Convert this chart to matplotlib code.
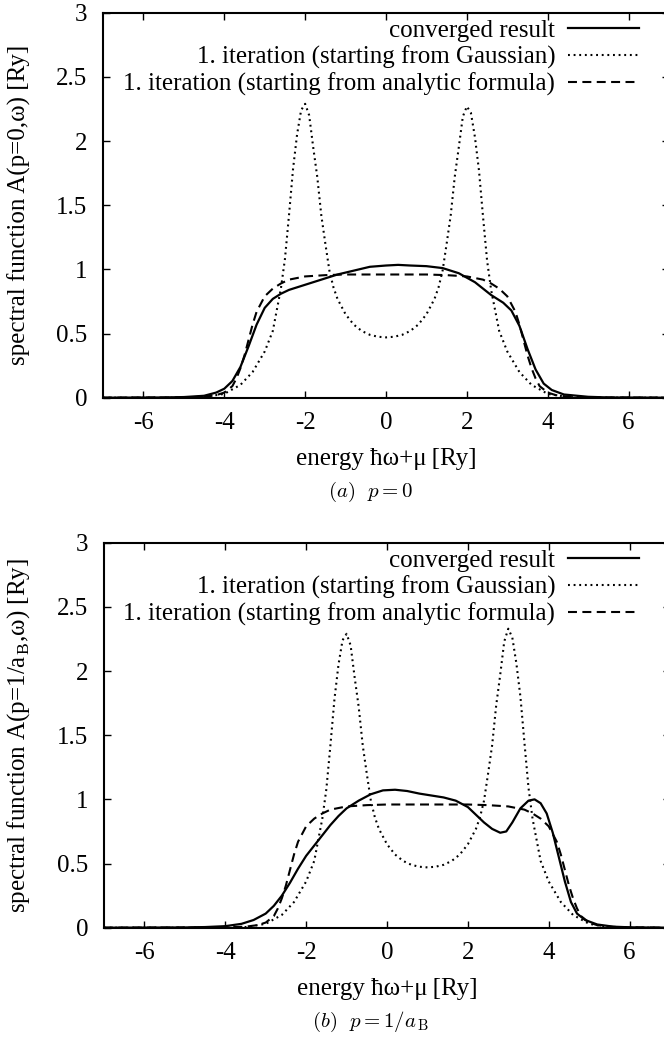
import numpy as np
import matplotlib
matplotlib.use("Agg")
import matplotlib.pyplot as plt

# ---------------- data ----------------
# panel (a): p = 0
a_conv_x = [-7, -5.5, -5.0, -4.5, -4.2, -4.0, -3.8, -3.6, -3.4, -3.2, -3.0, -2.8, -2.6, -2.4,
            -2.2, -2.0, -1.6, -1.2, -0.8, -0.4, 0.0, 0.3, 0.6, 1.0, 1.4, 1.8, 2.2, 2.6, 2.9,
            3.1, 3.3, 3.5, 3.7, 3.9, 4.1, 4.4, 5.0, 5.5, 7]
a_conv_y = [0.0, 0.002, 0.005, 0.015, 0.04, 0.07, 0.13, 0.24, 0.40, 0.57, 0.70, 0.77, 0.81, 0.84,
            0.86, 0.88, 0.92, 0.96, 0.99, 1.02, 1.03, 1.035, 1.03, 1.025, 1.01, 0.97, 0.90, 0.80, 0.74,
            0.68, 0.56, 0.38, 0.22, 0.11, 0.06, 0.025, 0.007, 0.002, 0.0]

a_gauss_x = [-7, -5.0, -4.5, -4.0, -3.6, -3.3, -3.0, -2.8, -2.6, -2.5, -2.4, -2.3, -2.2, -2.1,
             -2.0, -1.9, -1.8, -1.7, -1.6, -1.5, -1.4, -1.3, -1.2, -1.0, -0.8, -0.6, -0.4, -0.2,
             0.0, 0.2, 0.4, 0.6, 0.8, 1.0, 1.2, 1.3, 1.4, 1.5, 1.6, 1.7, 1.8, 1.9, 2.0, 2.1,
             2.2, 2.3, 2.4, 2.5, 2.6, 2.8, 3.0, 3.3, 3.6, 4.0, 4.5, 5.0, 7]
a_gauss_y = [0.0, 0.0, 0.005, 0.03, 0.10, 0.20, 0.36, 0.52, 0.85, 1.08, 1.42, 1.78, 2.05, 2.24,
             2.29, 2.20, 1.95, 1.72, 1.42, 1.20, 0.99, 0.86, 0.77, 0.65, 0.57, 0.52, 0.49, 0.475,
             0.47, 0.475, 0.49, 0.52, 0.57, 0.65, 0.77, 0.86, 0.99, 1.20, 1.42, 1.72, 1.95, 2.19,
             2.27, 2.22, 2.03, 1.77, 1.41, 1.07, 0.84, 0.52, 0.36, 0.20, 0.10, 0.03, 0.005, 0.0, 0.0]

a_anal_x = [-7, -5.0, -4.5, -4.2, -4.0, -3.8, -3.7, -3.6, -3.5, -3.4, -3.3, -3.2, -3.0, -2.8,
            -2.6, -2.4, -2.0, -1.5, -1.0, 0.0, 1.0, 1.5, 2.0, 2.4, 2.6, 2.8, 3.0, 3.2, 3.3,
            3.4, 3.5, 3.6, 3.7, 3.8, 4.0, 4.2, 4.5, 5.0, 7]
a_anal_y = [0.0, 0.002, 0.008, 0.02, 0.04, 0.09, 0.15, 0.23, 0.33, 0.45, 0.57, 0.67, 0.79, 0.85,
            0.89, 0.92, 0.945, 0.955, 0.96, 0.96, 0.96, 0.955, 0.945, 0.92, 0.89, 0.85, 0.79, 0.67, 0.57,
            0.45, 0.33, 0.23, 0.15, 0.09, 0.04, 0.02, 0.008, 0.002, 0.0]

# panel (b): p = 1/a_B
b_conv_x = [-7, -5.0, -4.5, -4.0, -3.6, -3.3, -3.0, -2.8, -2.6, -2.4, -2.2, -2.0, -1.8, -1.6,
            -1.4, -1.2, -1.0, -0.7, -0.4, -0.1, 0.2, 0.5, 0.8, 1.1, 1.4, 1.7, 2.0, 2.2, 2.4,
            2.6, 2.8, 2.95, 3.1, 3.3, 3.5, 3.65, 3.8, 3.95, 4.1, 4.25, 4.4, 4.55, 4.7, 4.9,
            5.2, 5.6, 6.0, 7]
b_conv_y = [0.0, 0.002, 0.005, 0.012, 0.03, 0.06, 0.11, 0.17, 0.25, 0.35, 0.46, 0.56, 0.64, 0.72,
            0.80, 0.87, 0.93, 0.99, 1.04, 1.07, 1.075, 1.065, 1.045, 1.03, 1.015, 0.99, 0.94, 0.88, 0.82,
            0.77, 0.74, 0.75, 0.82, 0.93, 0.99, 1.0, 0.97, 0.89, 0.74, 0.55, 0.36, 0.20, 0.11, 0.06,
            0.025, 0.008, 0.003, 0.0]

b_gauss_x = [-7, -4.0, -3.5, -3.0, -2.6, -2.3, -2.0, -1.8, -1.6, -1.5, -1.4, -1.3, -1.2, -1.1,
             -1.0, -0.9, -0.8, -0.7, -0.6, -0.5, -0.4, -0.3, -0.2, 0.0, 0.2, 0.4, 0.6, 0.8,
             1.0, 1.2, 1.4, 1.6, 1.8, 2.0, 2.2, 2.3, 2.4, 2.5, 2.6, 2.7, 2.8, 2.9, 3.0, 3.1,
             3.2, 3.3, 3.4, 3.5, 3.6, 3.8, 4.0, 4.3, 4.6, 5.0, 5.5, 6.0, 7]
b_gauss_y = [0.0, 0.0, 0.005, 0.03, 0.10, 0.20, 0.36, 0.52, 0.85, 1.08, 1.42, 1.78, 2.05, 2.24,
             2.29, 2.20, 1.95, 1.72, 1.42, 1.20, 0.99, 0.86, 0.77, 0.65, 0.57, 0.52, 0.49, 0.475,
             0.47, 0.475, 0.49, 0.52, 0.57, 0.65, 0.77, 0.86, 0.99, 1.20, 1.42, 1.73, 1.97, 2.23,
             2.33, 2.26, 2.06, 1.80, 1.44, 1.09, 0.85, 0.52, 0.36, 0.20, 0.10, 0.03, 0.005, 0.0, 0.0]

b_anal_x = [-7, -4.0, -3.5, -3.2, -3.0, -2.8, -2.7, -2.6, -2.5, -2.4, -2.3, -2.2, -2.0, -1.8,
            -1.6, -1.4, -1.0, -0.5, 0.0, 1.0, 2.0, 2.5, 3.0, 3.4, 3.6, 3.8, 4.0, 4.2, 4.3,
            4.4, 4.5, 4.6, 4.7, 4.8, 5.0, 5.2, 5.5, 6.0, 7]
b_anal_y = [0.0, 0.002, 0.008, 0.02, 0.04, 0.09, 0.15, 0.23, 0.33, 0.45, 0.57, 0.67, 0.79, 0.85,
            0.89, 0.92, 0.945, 0.955, 0.96, 0.96, 0.96, 0.955, 0.945, 0.92, 0.89, 0.85, 0.79, 0.67, 0.57,
            0.45, 0.33, 0.23, 0.15, 0.09, 0.04, 0.02, 0.008, 0.002, 0.0]

legend_labels = ["converged result",
                 "1. iteration (starting from Gaussian)",
                 "1. iteration (starting from analytic formula)"]
x_ticks = [-6, -4, -2, 0, 2, 4, 6]
y_ticks = [0, 0.5, 1, 1.5, 2, 2.5, 3]
y_tick_labels = ["0", "0.5", "1", "1.5", "2", "2.5", "3"]
xlabel = "energy ħω+μ\u2009[Ry]"
ylabels = ["spectral function A(p=0,ω) [Ry]",
           "spectral function A(p=1/a$_\\mathregular{B}$,ω) [Ry]"]
captions = [r"$(a)\ \ p=0$", r"$(b)\ \ p=1/a_{\,\mathrm{B}}$"]

# ---------------- figure ----------------
plt.rcParams["font.family"] = ["Liberation Serif", "DejaVu Serif"]
plt.rcParams["mathtext.fontset"] = "cm"
W, H = 664, 1041
fig = plt.figure(figsize=(W / 100, H / 100), dpi=100)

FS = 18
AX_W = 566
panels = [
    dict(left=103, top=12.7, conv=(a_conv_x, a_conv_y), gauss=(a_gauss_x, a_gauss_y),
         anal=(a_anal_x, a_anal_y)),
    dict(left=104, top=542.7, conv=(b_conv_x, b_conv_y), gauss=(b_gauss_x, b_gauss_y),
         anal=(b_anal_x, b_anal_y)),
]
AX_H = 385

for i, p in enumerate(panels):
    bottom_px = p["top"] + AX_H
    ax = fig.add_axes([p["left"] / W, 1 - bottom_px / H, AX_W / W, AX_H / H])
    ax.plot(*p["conv"], color="black", lw=1.6, ls="-", label=legend_labels[0])
    ax.plot(*p["gauss"], color="black", lw=1.5, ls=(0, (0.9, 1.8)), label=legend_labels[1])
    ax.plot(*p["anal"], color="black", lw=1.5, ls=(0, (4.3, 2.6)), label=legend_labels[2])
    ax.set_xlim(-7, 7)
    ax.set_ylim(0, 3)
    ax.set_xticks(x_ticks)
    ax.set_xticklabels([str(t) for t in x_ticks])
    ax.set_yticks(y_ticks)
    ax.set_yticklabels(y_tick_labels)
    ax.tick_params(direction="in", length=5, width=1.0, top=True, right=True,
                   labelsize=FS)
    ax.tick_params(axis="x", pad=10.0)
    ax.tick_params(axis="y", pad=11.5)
    for s in ax.spines.values():
        s.set_linewidth(1.5)
    ax.set_xlabel(xlabel, fontsize=FS, labelpad=10.5)
    ax.set_ylabel(ylabels[i], fontsize=FS, va="center", ha="center")
    ax.yaxis.set_label_coords((19 - p["left"]) / AX_W, 0.5)
    leg_top = p["top"] + 17.5 - 10.5
    ax.legend(loc="upper right", bbox_to_anchor=(639 / W, 1 - leg_top / H),
              bbox_transform=fig.transFigure, frameon=False, markerfirst=False,
              fontsize=FS, handlelength=2.85, handletextpad=0.5, labelspacing=0.14,
              borderaxespad=0, borderpad=0)
    fig.text(370 / W, 1 - (bottom_px + 94) / H, captions[i], fontsize=15,
             ha="center", va="center")

fig.savefig("out.png", dpi=100)
